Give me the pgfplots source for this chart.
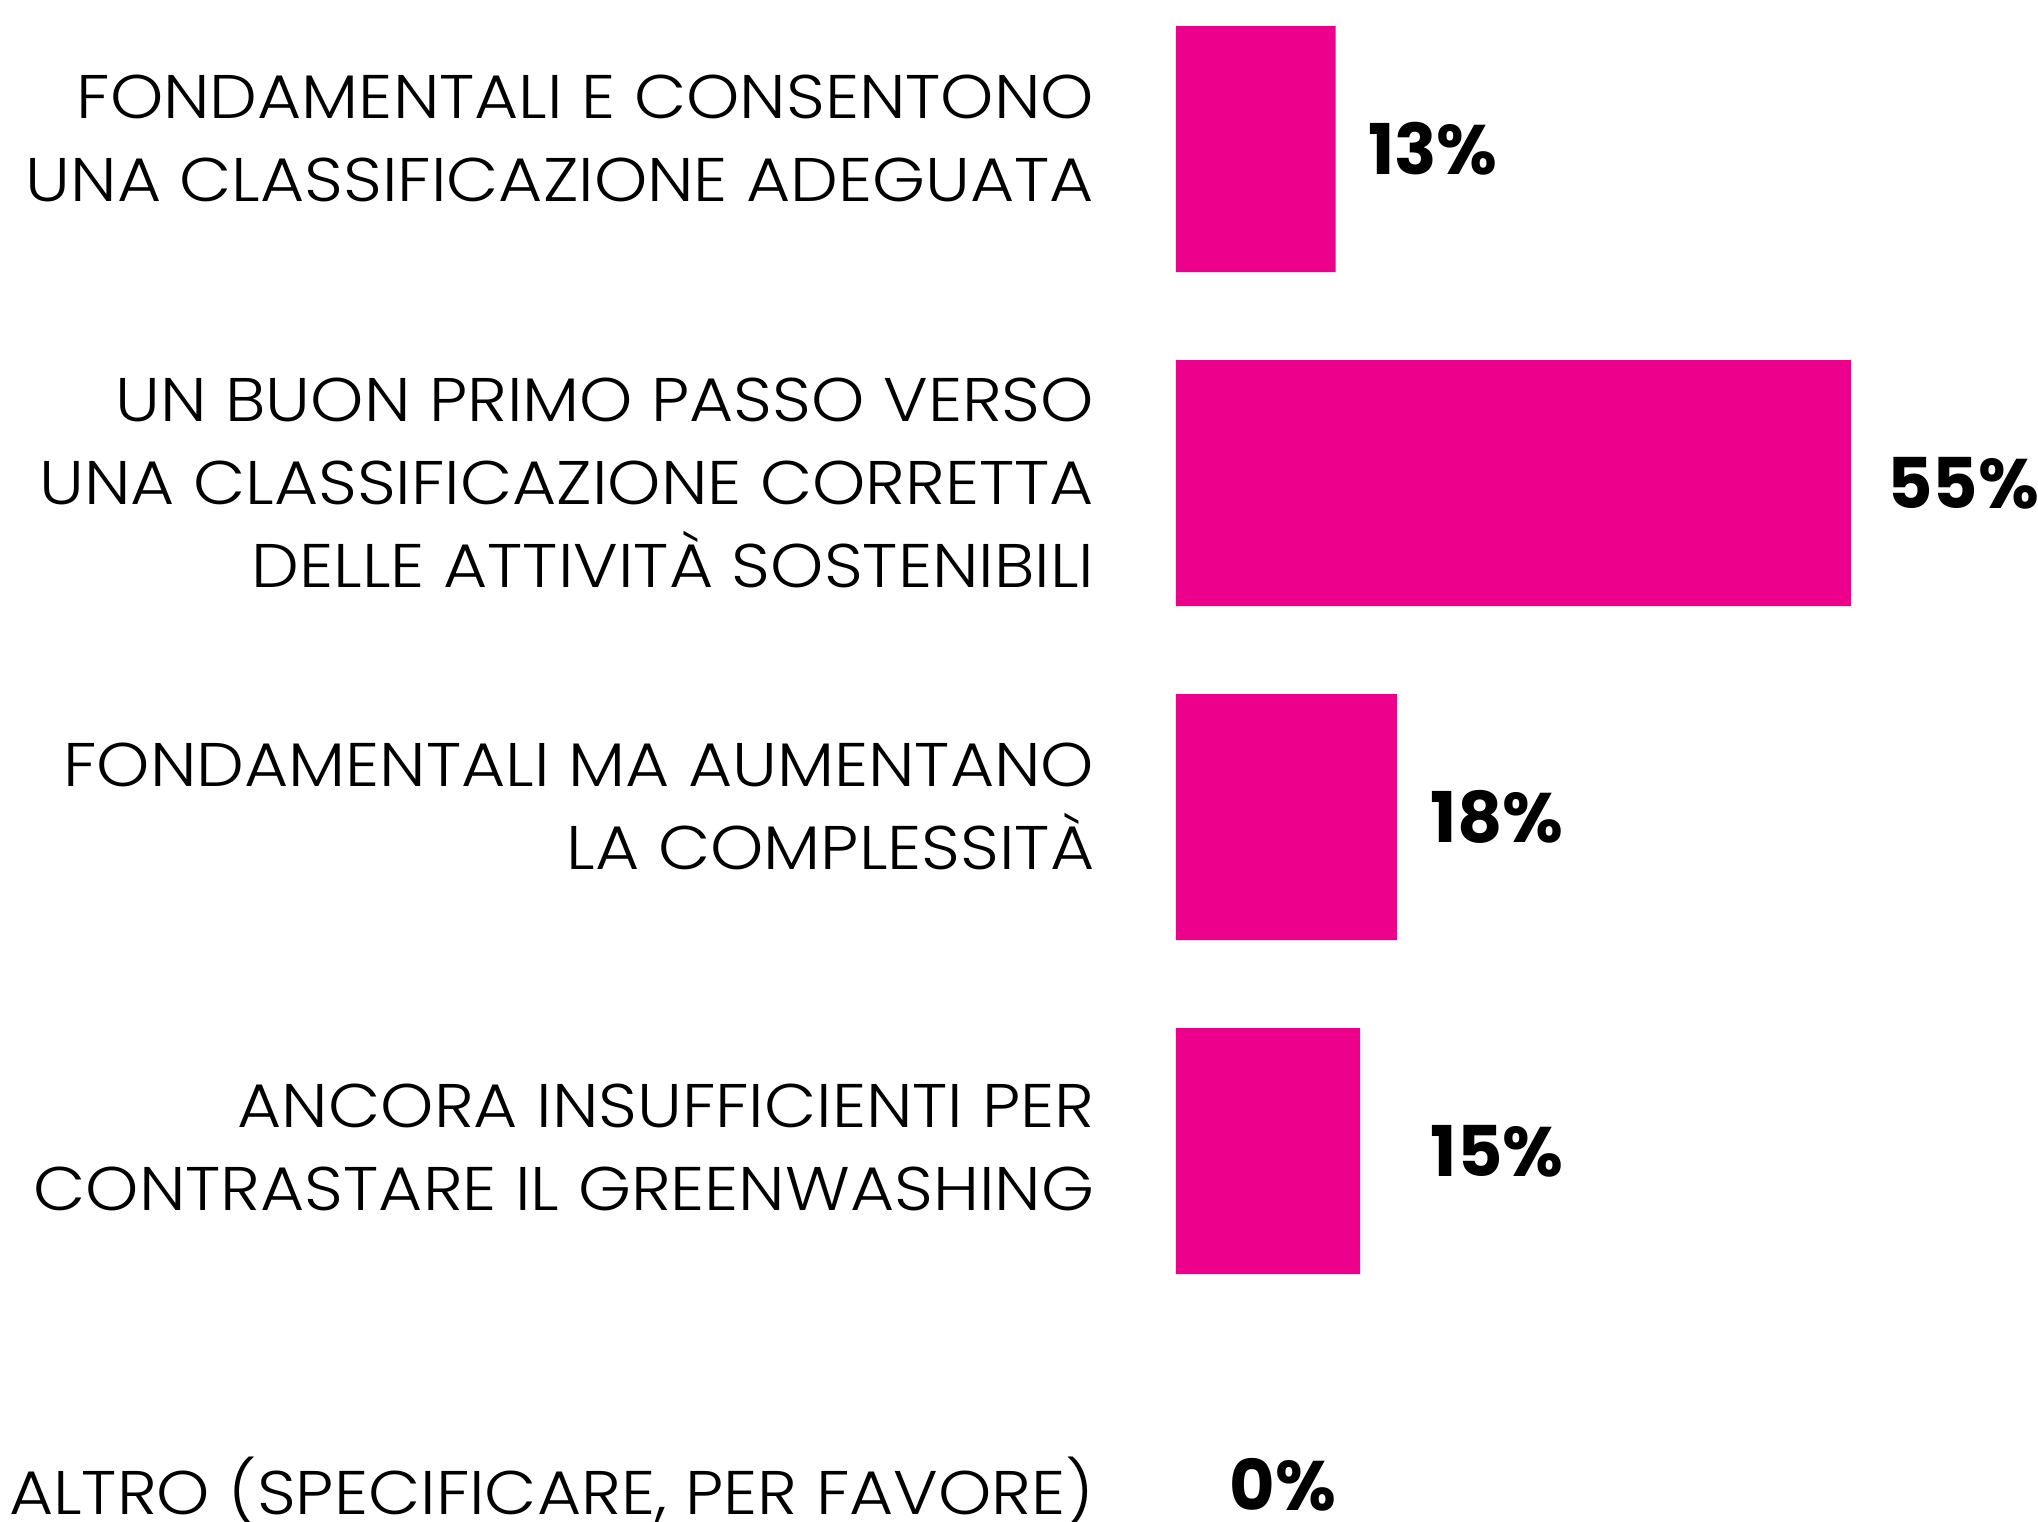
\documentclass[border=0pt]{standalone}
\usepackage{fontspec}
\setmainfont{Poppins}[UprightFont={* Light}, BoldFont={* Bold}]
\usepackage{pgfplots}
\usepackage{pgfplotstable}
\pgfplotsset{compat=1.18}
\definecolor{barmag}{RGB}{236,0,140}

\pgfplotstableread{
idx value labx
0 13 15.6
1 55 57.9
2 18 20.7
3 15 20.7
4 0 4.3
}\datatable

\begin{document}
\begin{tikzpicture}
\useasboundingbox (0,0) rectangle (509.5pt,380.5pt);
\clip (0,0) rectangle (509.5pt,380.5pt);
\begin{axis}[
  at={(294pt,-32.5pt)}, anchor=south west,
  scale only axis,
  width=168.75pt, height=417.5pt,
  xmin=0, xmax=55,
  ymin=-0.5, ymax=4.5,
  y dir=reverse,
  axis line style={draw=none},
  xtick=\empty,
  ytick={-0.031,1,1.969,2.988,4.02},
  major tick length=0pt,
  yticklabels={
    {FONDAMENTALI E CONSENTONO\\UNA CLASSIFICAZIONE ADEGUATA},
    {UN BUON PRIMO PASSO VERSO\\UNA CLASSIFICAZIONE CORRETTA\\DELLE ATTIVITÀ SOSTENIBILI},
    {FONDAMENTALI MA AUMENTANO\\LA COMPLESSITÀ},
    {ANCORA INSUFFICIENTI PER\\CONTRASTARE IL GREENWASHING},
    {ALTRO (SPECIFICARE, PER FAVORE)}
  },
  yticklabel style={align=right, inner sep=0pt, xshift=-20.25pt,
    font={\addfontfeature{FakeStretch=1.1}\fontsize{15.4}{20.75}\selectfont}},
  clip=false,
]
\addplot[xbar, bar width=61.5pt, fill=barmag, draw=none,
  skip coords between index={4}{5}]
  table[x=value, y=idx] {\datatable};
\addplot[draw=none, mark=none,
  point meta=explicit,
  nodes near coords={\pgfmathprintnumber[assume math mode=true]{\pgfplotspointmeta}\%},
  nodes near coords style={anchor=west, inner sep=0pt,
    font={\bfseries\fontsize{17.5}{20}\selectfont}, text=black},
] table[x=labx, y=idx, meta=value] {\datatable};
\end{axis}
\end{tikzpicture}
\end{document}
